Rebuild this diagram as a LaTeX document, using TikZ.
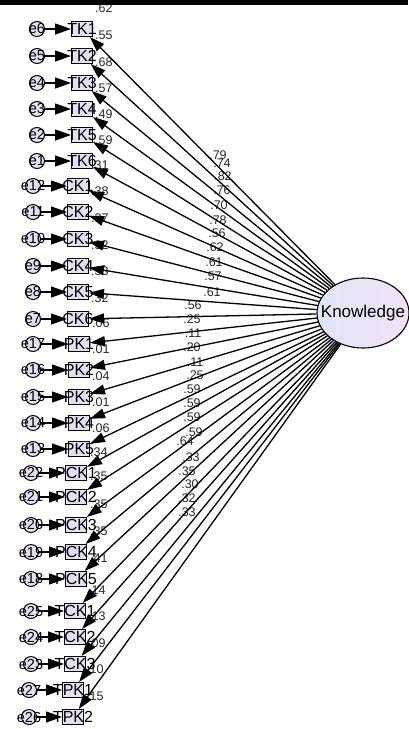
\documentclass[tikz,border=0pt]{standalone}
\usepackage{fontspec}
\setmainfont{Liberation Sans}
\usetikzlibrary{arrows.meta,shapes.geometric}
\definecolor{boxfill}{RGB}{232,222,243}
\definecolor{ellL}{RGB}{224,230,247}
\definecolor{ellR}{RGB}{242,224,246}
\begin{document}
\begin{tikzpicture}[x=1pt,y=-1pt,
  ind/.style={draw, line width=1pt, fill=boxfill, minimum width=21pt, minimum height=15pt, inner sep=0pt, font=\fontsize{16}{16}\selectfont},
  err/.style={circle, draw, line width=1pt, fill=boxfill, minimum size=15pt, inner sep=0pt, font=\fontsize{14.5}{14.5}\selectfont},
  est/.style={font=\fontsize{12.5}{12.5}\selectfont, inner sep=0pt, text=black!85},
  load/.style={line width=1.3pt, -{Triangle[length=15pt,width=10pt]}},
  errarr/.style={line width=1.3pt, -{Triangle[length=16pt,width=11pt]}},
  latent/.style={ellipse, draw, line width=1.1pt, left color=ellL, right color=ellR, minimum width=92pt, minimum height=70pt, inner sep=0pt, font=\fontsize{17}{17}\selectfont}]
\useasboundingbox (0,0) rectangle (408,729);
% squared multiple correlations
\foreach \x/\y/\v [count=\i] in {
  92/8/.62, 92/35/.55, 92/62/.68, 92/88/.57, 92/114/.49, 92/140/.59,
  88/165/.31, 88/191/.38, 88/218/.37, 88/245/.32, 88/271/.33, 88/298/.32,
  89/323/.06, 89/349/.01, 89/376/.04, 89/402/.01, 89/428/.06,
  87/452/.34, 87/476/.35, 87/504/.35, 87/531/.35, 87/558/.41,
  85/590/.14, 85/616/.13, 85/643/.09, 83/669/.10, 83/696/.15}
  \node[est, anchor=west] (r\i) at (\x+3,\y) {\v};
% loadings
\foreach \x/\y/\v [count=\i] in {
  218/155/.79, 222/163/.74, 223/176/.82, 222/190/.76, 219/205/.70, 218/220/.78,
  217/233/.56, 215/247/.62, 214/262/.61, 213/276/.57, 212/292/.61, 193/305/.56,
  192/319/.25, 193/333/.11, 192/347/.20, 195/362/.11, 195/375/.25,
  192/389/.59, 192/403/.59, 192/417/.59, 194/432/.59, 185/441/.64,
  191/457/.33, 187/471/.35, 190/484/.30, 187/498/.32, 187/512/.33}
  \node[est] (l\i) at (\x,\y) {\v};
\node[latent] (K) at (363,313) {\makebox[0pt]{Knowledge}};
\foreach \n/\t/\y/\bx/\ex/\e in {
  tka/TK1/29/82/37/e6, tkb/TK2/56/82/37/e5, tkc/TK3/83/82/37/e4,
  tkd/TK4/109/82/37/e3, tke/TK5/135/82/37/e2, tkf/TK6/161/82/37/e1,
  cka/CK1/186/78/33/e12, ckb/CK2/212/78/33/e11, ckc/CK3/239/78/33/e10,
  ckd/CK4/266/78/33/e9, cke/CK5/292/78/33/e8, ckf/CK6/319/78/33/e7,
  pka/PK1/344/79/33/e17, pkb/PK2/370/79/33/e16, pkc/PK3/397/79/33/e15,
  pkd/PK4/423/79/33/e14, pke/PK5/449/79/33/e13,
  pcka/PCK1/473/76/31/e22, pckb/PCK2/497/76/31/e21, pckc/PCK3/525/76/31/e20,
  pckd/PCK4/552/76/31/e19, pcke/PCK5/579/76/31/e18,
  tcka/TCK1/611/75/31/e25, tckb/TCK2/637/75/31/e24, tckc/TCK3/664/75/31/e23,
  tpka/TPK1/690/73/29/e27, tpkb/TPK2/717/73/29/e26}
{
  \node[ind] (\n) at (\bx,\y) {\makebox[0pt]{\t}};
  \node[err] (err\n) at (\ex,\y) {\makebox[0pt]{\e}};
  \draw[errarr] (err\n) -- (\n);
  \draw[load] (K) -- (\n);
}
\fill[black] (0,0) rectangle (408,5);
\end{tikzpicture}
\end{document}
